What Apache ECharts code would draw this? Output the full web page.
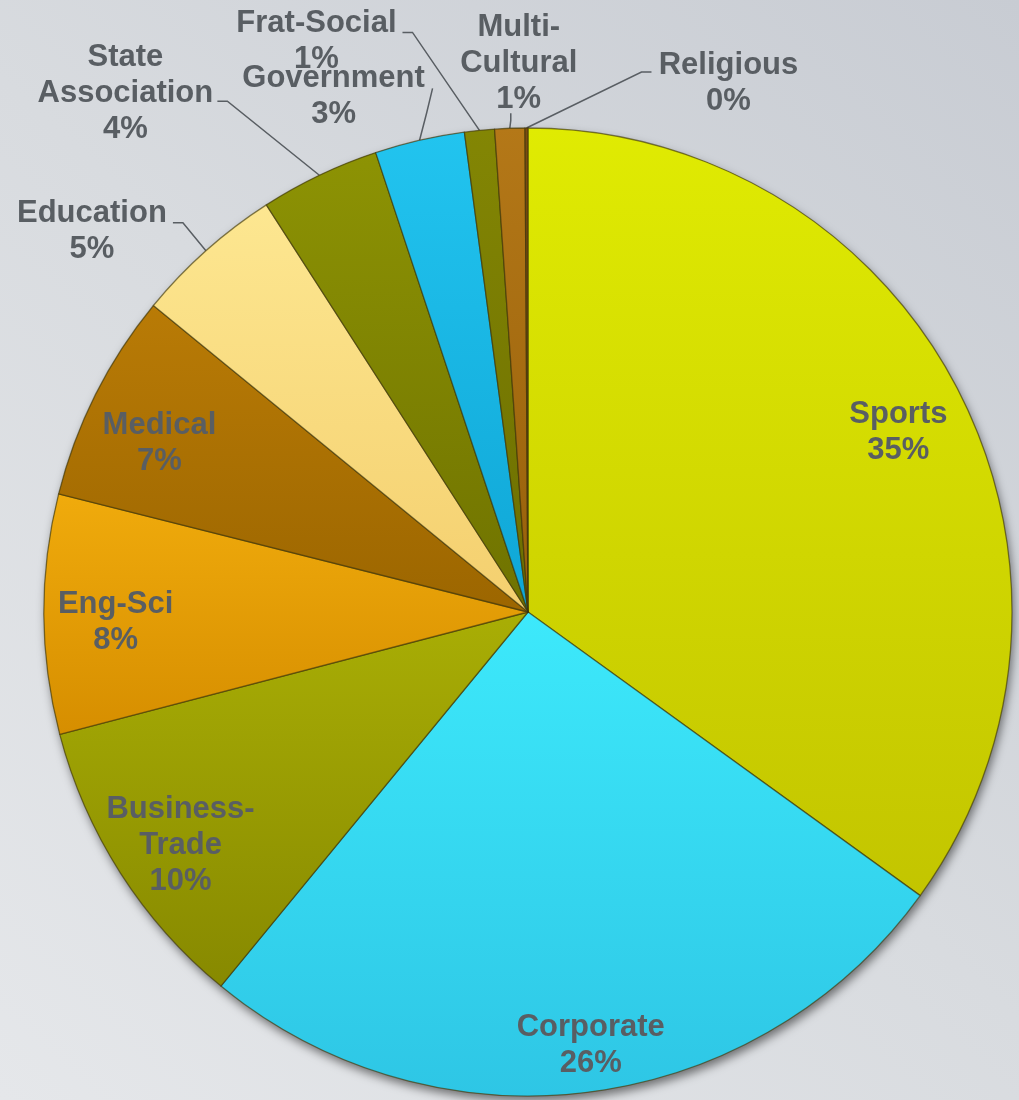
<!DOCTYPE html>
<html>
<head>
<meta charset="utf-8">
<script src="https://cdn.jsdelivr.net/npm/echarts@6/dist/echarts.min.js"></script>
<style>
  html, body { margin: 0; padding: 0; background: #d8dbdf; }
  #chart { width: 1019px; height: 1100px; }
</style>
</head>
<body>
<div id="chart"></div>
<script>
// Share of groups by market segment (percent)
const categories = [
  'Sports', 'Corporate', 'Business-Trade', 'Eng-Sci', 'Medical', 'Education',
  'State Association', 'Government', 'Frat-Social', 'Multi-Cultural', 'Religious'
];
const shares = [35, 26, 10, 8, 7, 5, 4, 3, 1, 1, 0.1];

// How each name breaks across lines in its label
const labelNames = {
  'Business-Trade': 'Business-\nTrade',
  'State Association': 'State\nAssociation',
  'Multi-Cultural': 'Multi-\nCultural'
};

// Top / bottom colour of each slice's shading
const sliceColors = [
  ['#e0eb02', '#c3c500'],
  ['#3de9fb', '#2ec6e5'],
  ['#a9ae05', '#878900'],
  ['#f0ab0c', '#d68e00'],
  ['#b97b06', '#9c6600'],
  ['#fde791', '#f4cf6e'],
  ['#8d9304', '#6f7200'],
  ['#22c4ef', '#0fa6d6'],
  ['#838604', '#6c6e00'],
  ['#b47818', '#97600a'],
  ['#7a4c12', '#6a400c']
];

// Labels drawn inside their slice, with a small nudge from the 0.85-radius point
const insideNudge = {
  'Sports':         [4, 8],
  'Corporate':      [10, 25],
  'Business-Trade': [-1, 12],
  'Eng-Sci':        [-1, 9],
  'Medical':        [-1, 16]
};

// Leader-line styling for the outside labels, relative to the slice's rim point
const leaderStyle = {
  'Education':         { knee: [-23, -28], end: [-33, -28], text: [-114, -19] },
  'State Association': { knee: [-92, -74], end: [-102, -74], text: [-194, -82] },
  'Government':        { knee: [7, -27],   end: [13, -52],   text: [-86, -44] },
  'Frat-Social':       { knee: [-67, -98], end: [-77, -98],  text: [-163, -89] },
  'Multi-Cultural':    { knee: [1, -8],    end: [1, -15],    text: [9, -65] },
  'Religious':         { knee: [115, -56], end: [125, -56],  text: [202, -45] }
};

const CX = 528, CY = 612, R = 484;
const total = shares.reduce((a, b) => a + b, 0);
const textColor = '#595e63';

const chart = echarts.init(document.getElementById('chart'), null, { renderer: 'canvas' });

function shade(pair) {
  return {
    type: 'linear', x: 0, y: 0, x2: 0, y2: 1,
    colorStops: [{ offset: 0, color: pair[0] }, { offset: 1, color: pair[1] }]
  };
}

const pieData = categories.map((name, i) => {
  const inside = insideNudge[name] !== undefined;
  return {
    name: name,
    value: shares[i],
    itemStyle: { color: shade(sliceColors[i]) },
    label: { position: inside ? 'inside' : 'outside' },
    labelLine: { show: !inside }
  };
});

function placeLabel(p) {
  const name = categories[p.dataIndex];
  let layout = null;
  try {
    layout = chart.getModel().getSeriesByIndex(p.seriesIndex).getData().getItemLayout(p.dataIndex);
  } catch (e) { layout = null; }
  if (!layout) return {};
  const mid = (layout.startAngle + layout.endAngle) / 2;
  const cos = Math.cos(mid), sin = Math.sin(mid);
  const nudge = insideNudge[name];
  if (nudge) {
    const rl = layout.r * 0.85;
    return {
      x: layout.cx + rl * cos + nudge[0],
      y: layout.cy + rl * sin + nudge[1],
      align: 'center',
      verticalAlign: 'middle'
    };
  }
  const s = leaderStyle[name];
  const ax = layout.cx + layout.r * cos;
  const ay = layout.cy + layout.r * sin;
  return {
    x: ax + s.text[0],
    y: ay + s.text[1],
    align: 'center',
    verticalAlign: 'middle',
    labelLinePoints: [
      [ax, ay],
      [ax + s.knee[0], ay + s.knee[1]],
      [ax + s.end[0], ay + s.end[1]]
    ]
  };
}

chart.setOption({
  animation: false,
  backgroundColor: {
    type: 'linear', x: 1, y: 0, x2: 0, y2: 1,
    colorStops: [
      { offset: 0, color: '#c8ccd3' },
      { offset: 0.5, color: '#d8dbdf' },
      { offset: 1, color: '#e5e7ea' }
    ]
  },
  series: [
    {
      // soft drop shadow under the whole pie
      type: 'pie',
      silent: true,
      center: [CX, CY],
      radius: R,
      z: 1,
      label: { show: false },
      labelLine: { show: false },
      emphasis: { disabled: true },
      itemStyle: {
        color: '#8a8a40',
        shadowBlur: 10,
        shadowOffsetX: 2,
        shadowOffsetY: 5,
        shadowColor: 'rgba(0,0,0,0.5)'
      },
      data: [{ value: 1, name: '' }]
    },
    {
      type: 'pie',
      center: [CX, CY],
      radius: R,
      z: 2,
      startAngle: 90,
      clockwise: true,
      avoidLabelOverlap: false,
      emphasis: { disabled: true },
      itemStyle: {
        borderColor: 'rgba(60,52,10,0.6)',
        borderWidth: 1.3
      },
      label: {
        show: true,
        color: textColor,
        fontFamily: '"Liberation Sans", Arial, sans-serif',
        fontWeight: 'bold',
        fontSize: 31,
        lineHeight: 36,
        align: 'center',
        formatter: function (p) {
          const nm = labelNames[p.name] || p.name;
          return nm + '\n' + Math.round(p.value / total * 100) + '%';
        }
      },
      labelLine: {
        lineStyle: { color: '#595e63', width: 1.5 }
      },
      labelLayout: placeLabel,
      data: pieData
    }
  ]
});
</script>
</body>
</html>
